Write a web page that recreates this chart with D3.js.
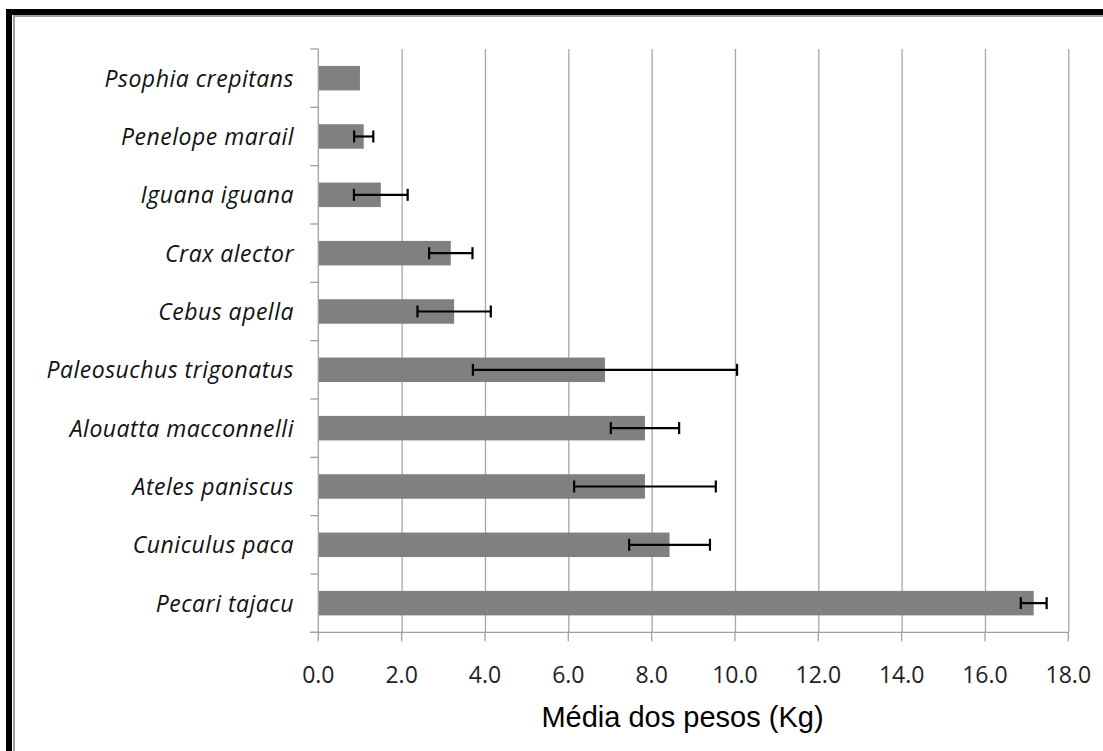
<!DOCTYPE html>
<html>
<head>
<meta charset="utf-8">
<script src="https://cdn.jsdelivr.net/npm/d3@7"></script>
<style>
  html, body { margin: 0; padding: 0; background: #fff; }
  svg { display: block; }
</style>
</head>
<body>
<script>
const species = ["Psophia crepitans","Penelope marail","Iguana iguana","Crax alector","Cebus apella",
  "Paleosuchus trigonatus","Alouatta macconnelli","Ateles paniscus","Cuniculus paca","Pecari tajacu"];
const means = [1.0, 1.09, 1.5, 3.18, 3.26, 6.88, 7.84, 7.84, 8.43, 17.17];
const errors = [null, 0.23, 0.645, 0.52, 0.88, 3.17, 0.82, 1.70, 0.97, 0.31];
const xTicks = [0, 2, 4, 6, 8, 10, 12, 14, 16, 18];
const xTitle = "Média dos pesos (Kg)";

const W = 1103, H = 751;
const svg = d3.select("body").append("svg").attr("width", W).attr("height", H);

// frame (black + gray inner line on top/left)
svg.append("rect").attr("x", 6).attr("y", 9).attr("width", W - 6).attr("height", 6).attr("fill", "#000");
svg.append("rect").attr("x", 6).attr("y", 9).attr("width", 6).attr("height", H - 9).attr("fill", "#000");
svg.append("rect").attr("x", 13).attr("y", 15).attr("width", W - 13).attr("height", 2).attr("fill", "#a0a0a0");
svg.append("rect").attr("x", 13).attr("y", 15).attr("width", 2).attr("height", H - 15).attr("fill", "#a0a0a0");

const x0 = 318.3, x1 = 1068.3, y0 = 49, y1 = 632.3;
const x = d3.scaleLinear().domain([0, 18]).range([x0, x1]);
const y = d3.scaleBand().domain(species).range([y0, y1]).paddingInner(0.58).paddingOuter(0.29);
const step = y.step();

// gridlines
svg.append("g").selectAll("line").data(xTicks.filter(d => d > 0)).join("line")
  .attr("x1", d => x(d) + 0.5).attr("x2", d => x(d) + 0.5)
  .attr("y1", y0).attr("y2", y1)
  .attr("stroke", "#a6a6a6").attr("stroke-width", 1.3);

// bars
svg.append("g").selectAll("rect").data(species).join("rect")
  .attr("x", x(0)).attr("y", d => y(d))
  .attr("width", (d, i) => x(means[i]) - x(0))
  .attr("height", y.bandwidth())
  .attr("fill", "#808080");

// y axis line + ticks
const yAxisG = svg.append("g");
yAxisG.append("line").attr("x1", x0).attr("x2", x0).attr("y1", y0).attr("y2", y1)
  .attr("stroke", "#a0a0a0").attr("stroke-width", 1.3);
const bounds = d3.range(species.length + 1).map(i => y0 + i * step);
yAxisG.selectAll("line.t").data(bounds).join("line").attr("class", "t")
  .attr("x1", x0 - 8).attr("x2", x0).attr("y1", d => d).attr("y2", d => d)
  .attr("stroke", "#a0a0a0").attr("stroke-width", 1.3);

// category labels
svg.append("g").selectAll("text").data(species).join("text")
  .attr("x", 294).attr("y", d => y(d) + y.bandwidth() / 2 + 8.5)
  .attr("text-anchor", "end")
  .attr("font-family", "'Open Sans', sans-serif").attr("font-style", "italic")
  .attr("font-size", 23).attr("letter-spacing", 0.5).attr("fill", "#111")
  .text(d => d);

// x axis
const xAxisG = svg.append("g").attr("transform", `translate(0,${y1})`);
xAxisG.append("line").attr("x1", x0 - 8).attr("x2", x1).attr("y1", 0).attr("y2", 0)
  .attr("stroke", "#a0a0a0").attr("stroke-width", 1.3);
xAxisG.selectAll("line.t").data(xTicks).join("line").attr("class", "t")
  .attr("x1", d => x(d)).attr("x2", d => x(d)).attr("y1", 0).attr("y2", 9)
  .attr("stroke", "#a0a0a0").attr("stroke-width", 1.3);
xAxisG.selectAll("text").data(xTicks).join("text")
  .attr("x", d => x(d)).attr("y", 51)
  .attr("text-anchor", "middle")
  .attr("font-family", "'Open Sans', sans-serif").attr("font-size", 23).attr("fill", "#222")
  .text(d => d3.format(".1f")(d));

// axis title
svg.append("text").attr("x", 682.5).attr("y", 727)
  .attr("text-anchor", "middle")
  .attr("font-family", "'Liberation Sans', Arial, sans-serif").attr("font-size", 29).attr("fill", "#000")
  .text(xTitle);

// error bars
const eb = svg.append("g").attr("stroke", "#000").attr("stroke-width", 2.2);
species.forEach((s, i) => {
  if (errors[i] == null) return;
  const cy = y(s) + y.bandwidth() / 2;
  const lo = x(means[i] - errors[i]), hi = x(means[i] + errors[i]);
  eb.append("line").attr("x1", lo).attr("x2", hi).attr("y1", cy).attr("y2", cy);
  eb.append("line").attr("x1", lo).attr("x2", lo).attr("y1", cy - 6).attr("y2", cy + 6);
  eb.append("line").attr("x1", hi).attr("x2", hi).attr("y1", cy - 6).attr("y2", cy + 6);
});
</script>
</body>
</html>
